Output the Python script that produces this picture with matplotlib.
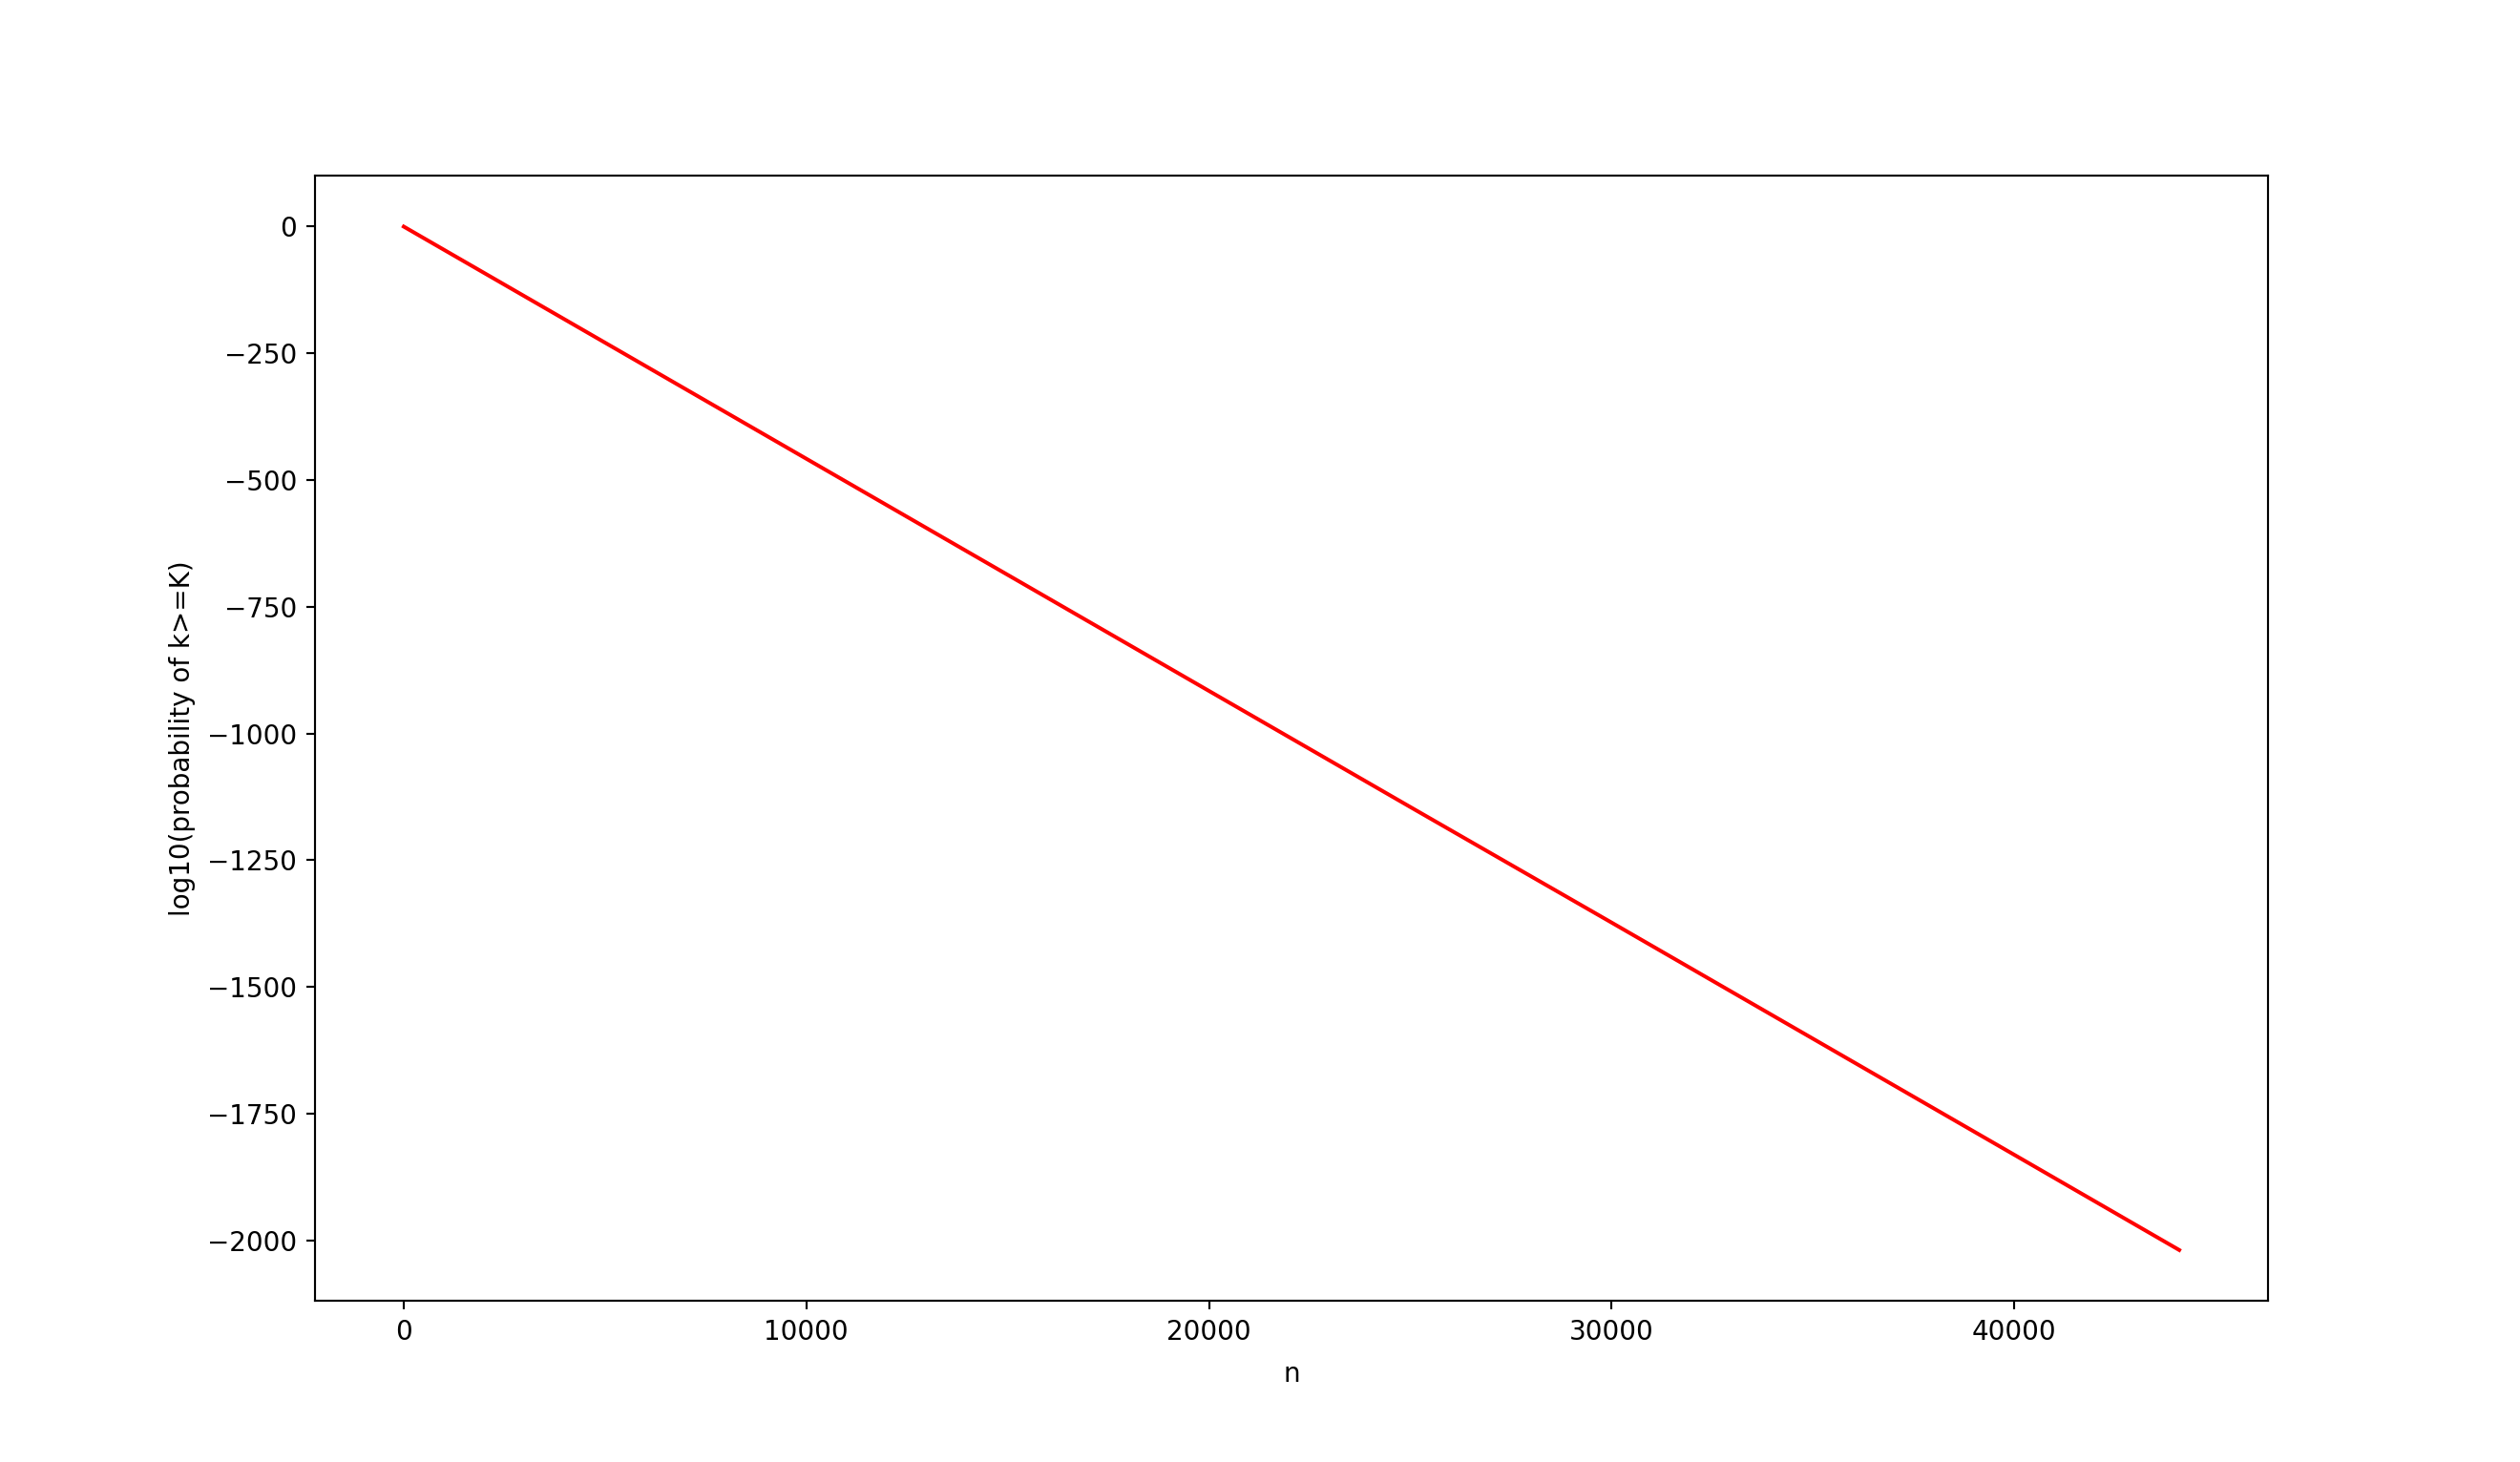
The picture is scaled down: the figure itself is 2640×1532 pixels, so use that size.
import matplotlib
matplotlib.use("Agg")
import matplotlib.pyplot as plt

n_values = [0, 5000, 10000, 15000, 20000, 25000, 30000, 35000, 40000, 44100]
log_prob = [0, -229, -458, -687, -916, -1145, -1373, -1602, -1831, -2019]

plt.rcParams["font.size"] = 10.4

fig = plt.figure(figsize=(2640 / 192, 1532 / 192), dpi=192)
ax = fig.add_subplot(111)
ax.plot(n_values, log_prob, color="red")
ax.set_xlabel("n", labelpad=5.8)
ax.set_ylabel("log10(probability of k>=K)", labelpad=4.6)
fig.savefig("out.png", dpi=192)
